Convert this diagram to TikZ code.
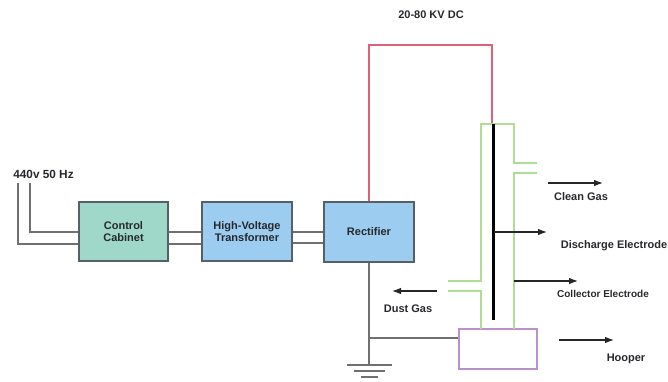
\documentclass[tikz,border=0pt]{standalone}
\usepackage{fontspec}
\setmainfont{Liberation Sans}
\usetikzlibrary{arrows.meta}
\definecolor{wiregray}{HTML}{707070}
\definecolor{boxedge}{HTML}{55606A}
\definecolor{tealfill}{HTML}{9FD8C8}
\definecolor{bluefill}{HTML}{9CCDF0}
\definecolor{redwire}{HTML}{E06078}
\definecolor{greenwall}{HTML}{B0DC94}
\definecolor{hopperedge}{HTML}{BC90C8}
\definecolor{inktext}{HTML}{26282C}
\tikzset{
  unitbox/.style={draw=boxedge,line width=1.3pt,minimum width=89pt,minimum height=59pt,inner sep=0pt,align=center,
    font=\fontsize{11}{12}\selectfont\bfseries,text=inktext},
  wire/.style={draw=wiregray,line width=1.3pt},
  hv/.style={draw=redwire,line width=1.3pt},
  wall/.style={draw=greenwall,line width=1.3pt},
  flow/.style={draw=black!85,line width=1.1pt,-{Latex[length=9pt,width=6.5pt]}},
  lab/.style={inner sep=0pt,text=inktext,font=\fontsize{11}{12}\selectfont\bfseries},
  biglab/.style={inner sep=0pt,text=inktext,font=\fontsize{11.8}{13}\selectfont\bfseries},
  smalllab/.style={inner sep=0pt,text=inktext,font=\fontsize{10}{11}\selectfont\bfseries},
}
\begin{document}
\begin{tikzpicture}[x=1pt,y=-1pt]
\useasboundingbox (0,0) rectangle (668,382);
% boxes
\node[unitbox,fill=tealfill] (cab) at (123.5,231.5) {Control\\Cabinet};
\node[unitbox,fill=bluefill,minimum width=90pt] (tra) at (247,231.5) {High-Voltage\\Transformer};
\node[unitbox,fill=bluefill,minimum width=90pt,minimum height=60pt] (rec) at (369,232) {Rectifier};
\node[draw=hopperedge,line width=1.3pt,minimum width=78pt,minimum height=40pt,inner sep=0pt] (hop) at (498,349) {};
% labels
\node[biglab] (ac) at (43.5,174) {440v 50 Hz};
\node[lab] (dc) at (431,15) {20-80 KV DC};
\node[lab] (clean) at (581,197) {Clean Gas};
\node[lab] (dis) at (614,246) {Discharge Electrode};
\node[smalllab] (col) at (603,294) {Collector Electrode};
\node[lab] (dust) at (408,309) {Dust Gas};
\node[lab] (hoo) at (626,359) {Hooper};
% free ends
\coordinate (acA) at (18,183);
\coordinate (acB) at (30,183);
\coordinate (gnd) at (369,365);
\coordinate (top) at (492,124);
\coordinate (elB) at (493.5,320);
% mains and links
\draw[wire] (acB) |- (cab.west |- 0,232);
\draw[wire] (acA) |- (cab.west |- 0,244);
\draw[wire] (cab.east |- 0,232) -- (tra.west |- 0,232);
\draw[wire] (cab.east |- 0,244) -- (tra.west |- 0,244);
\draw[wire] (tra.east |- 0,232) -- (rec.west |- 0,232);
\draw[wire] (tra.east |- 0,243) -- (rec.west |- 0,243);
% high voltage
\draw[hv] (rec.north) |- (492,45) -- (top);
% ground
\draw[wire] (rec.south) -- (gnd);
\draw[wire] (369,338) -- (hop.west |- 0,338);
\draw[wire] (347,365) -- (392,365);
\draw[wire] (354,371) -- (385,371);
\draw[wire] (361,377) -- (378,377);
% chamber walls
\draw[wall] (448,281) -| (481,124) -- (514,124) |- (537,163);
\draw[wall] (537,173) -| (514,329);
\draw[wall] (448,291) -| (481,329);
% discharge electrode
\draw[black,line width=3pt] (493.5,124) -- (elB);
% arrows
\coordinate (cleanA) at (548,183); \coordinate (cleanB) at (603,183);
\coordinate (disA) at (494,232);   \coordinate (disB) at (547,232);
\coordinate (colA) at (514,281);   \coordinate (colB) at (578,281);
\coordinate (dustA) at (437,291);  \coordinate (dustB) at (392,291);
\coordinate (hooA) at (559,340);   \coordinate (hooB) at (614,340);
\draw[flow] (cleanA) -- (cleanB);
\draw[flow] (disA) -- (disB);
\draw[flow] (colA) -- (colB);
\draw[flow] (dustA) -- (dustB);
\draw[flow] (hooA) -- (hooB);
\end{tikzpicture}
\end{document}
